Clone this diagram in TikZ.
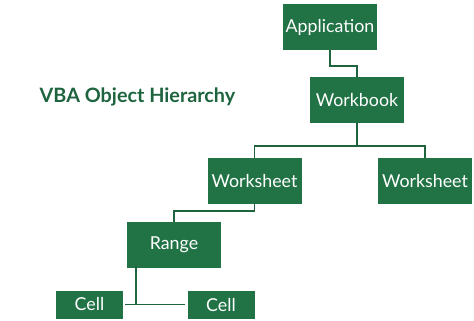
\documentclass[tikz,border=0pt]{standalone}
\usepackage{fontspec}
\setmainfont{Lato}
\usepackage{tikz}
\usetikzlibrary{positioning,calc}
\definecolor{xlgreen}{RGB}{33,115,70}
\definecolor{xldark}{RGB}{30,100,62}

\begin{document}
\begin{tikzpicture}[
  x=1pt,y=-1pt,
  obj/.style={fill=xlgreen,text=white,minimum width=94pt,minimum height=46pt,inner sep=0pt,font=\fontsize{17.8}{20}\selectfont},
  cell/.style={obj,minimum width=67pt,minimum height=28pt},
  ln/.style={draw=xldark,line width=1.7pt},
]
  \useasboundingbox (0,0) rectangle (474,321);
  \node[font=\bfseries\fontsize{19.8}{22}\selectfont,text=xldark] (title) at (137.5,97) {VBA Object Hierarchy};
  % top of the tree
  \node[obj] (app) at (330,27) {Application};
  \node[obj] (wb) at (357,100) {Workbook};
  % sheets
  \node[obj] (ws1) at (254.5,181) {Worksheet};
  \node[obj] (ws2) at (425,181) {Worksheet};
  \node[obj] (rng) at (174,245) {Range};
  % cells
  \node[cell] (c1) at (89.5,304.5) {Cell};
  \node[cell] (c2) at (221,305) {Cell};
  % connectors
  \draw[ln] (app.south) -- ++(0,16) -| (wb.north);
  \draw[ln] (wb.south) -- ++(0,23) coordinate (split);
  \draw[ln] (ws1.north) |- (split) -| (ws2.north);
  \draw[ln] (ws1.south) -- ++(0,7) -| (rng.north);
  \coordinate (joint) at (136,304.5);
  \draw[ln] ([yshift=2pt]rng.south -| joint) -- (joint);
  \draw[ln] ([xshift=2pt]c1.east) -- ([xshift=-2pt]c2.west |- c1.east);
\end{tikzpicture}
\end{document}
